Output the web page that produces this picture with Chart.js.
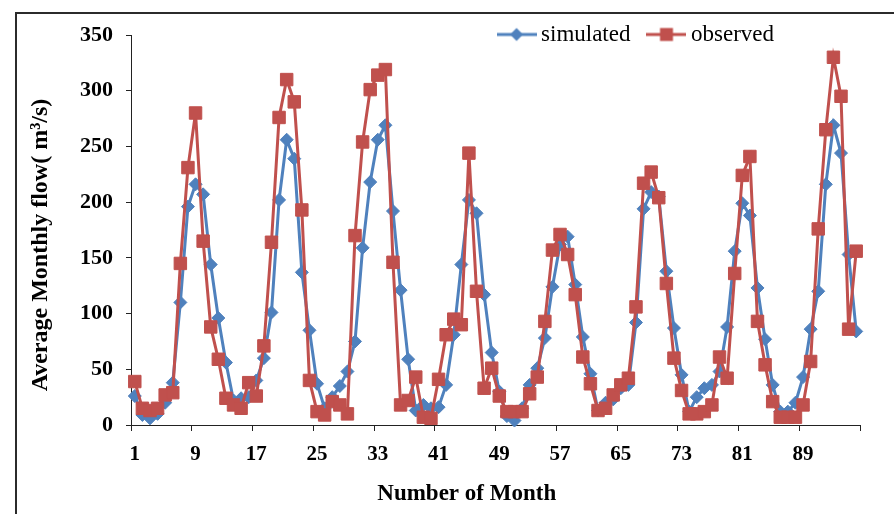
<!DOCTYPE html>
<html>
<head>
<meta charset="utf-8">
<script src="https://cdn.jsdelivr.net/npm/chart.js@4.4.0/dist/chart.umd.min.js"></script>
<style>
  html, body { margin: 0; padding: 0; background: #fff; }
  #wrap { position: relative; width: 894px; height: 514px; overflow: hidden; }
  #frame { position: absolute; left: 15px; top: 12px; width: 900px; height: 520px;
           border-left: 2px solid #2b2b2b; border-top: 2px solid #2b2b2b; }
  canvas { position: absolute; left: 0; top: 0; }
</style>
</head>
<body>
<div id="wrap">
  <div id="frame"></div>
  <canvas id="flowChart" width="894" height="514"></canvas>
</div>
<script>
// month numbers 1..96 on the category axis, only every 8th is labelled
const months = Array.from({ length: 96 }, (_, i) => String(i + 1));
const shownMonths = ['1', '9', '17', '25', '33', '41', '49', '57', '65', '73', '81', '89'];

const simulated = [
  26, 9, 6, 10, 20, 38, 110, 196, 216, 207, 144, 96,
  56, 22, 24, 25, 40, 60, 101, 202, 256, 239, 137, 85,
  37, 15, 25, 35, 48, 75, 159, 218, 256, 269, 192, 121,
  59, 13, 18, 15, 16, 36, 81, 144, 202, 190, 117, 65,
  30, 8, 4, 15, 36, 51, 78, 124, 162, 169, 126, 79,
  46, 13, 20, 23, 33, 36, 92, 194, 209, 205, 138, 87,
  45, 12, 25, 33, 36, 48, 88, 156, 199, 188, 123, 77,
  36, 12, 12, 20, 43, 86, 120, 216, 269, 244, 153, 84
];
const observed = [
  39, 15, 13, 15, 27, 29, 145, 231, 280, 165, 88, 59,
  24, 18, 15, 38, 26, 71, 164, 276, 310, 290, 193, 40,
  12, 9, 21, 18, 10, 170, 254, 301, 314, 319, 146, 18,
  22, 43, 7, 6, 41, 81, 95, 90, 244, 120, 33, 51,
  26, 12, 12, 12, 28, 43, 93, 157, 171, 153, 117, 61,
  37, 13, 15, 27, 36, 42, 106, 217, 227, 204, 127, 60,
  31, 10, 10, 12, 18, 61, 42, 136, 224, 241, 93, 54,
  21, 7, 7, 7, 18, 57, 176, 265, 330, 295, 86, 156
];

const BLUE = '#4F81BD';
const RED = '#C0504D';
const AXIS = '#222';
const serif = "'Liberation Serif', 'Times New Roman', serif";
const NB = '\u00a0';

// line + marker sample for the legend
function legendSwatch(color, shape) {
  const c = document.createElement('canvas');
  c.width = 40; c.height = 16;
  const g = c.getContext('2d');
  g.strokeStyle = color; g.lineWidth = 3;
  g.beginPath(); g.moveTo(0, 8); g.lineTo(40, 8); g.stroke();
  g.fillStyle = color;
  g.beginPath();
  if (shape === 'diamond') {
    g.moveTo(20, 1.5); g.lineTo(26.5, 8); g.lineTo(20, 14.5); g.lineTo(13.5, 8);
  } else {
    g.rect(13.5, 1.5, 13, 13);
  }
  g.fill();
  return c;
}
const swatches = [legendSwatch(BLUE, 'diamond'), legendSwatch(RED, 'square')];

// legend sits inside the plot, left of the right edge
const legendShift = {
  id: 'legendShift',
  afterLayout(chart) {
    const lg = chart.legend;
    lg.left -= 63;
    lg.right -= 63;
    lg.bottom += 30;
  }
};

new Chart(document.getElementById('flowChart'), {
  type: 'line',
  data: {
    labels: months,
    datasets: [
      {
        label: 'simulated',
        data: simulated,
        borderColor: BLUE,
        backgroundColor: BLUE,
        borderWidth: 3,
        pointStyle: 'rectRot',
        pointRadius: 6.5,
        pointBorderWidth: 1,
        tension: 0,
        clip: false,
        order: 2
      },
      {
        label: 'observed',
        data: observed,
        borderColor: RED,
        backgroundColor: RED,
        borderWidth: 3,
        pointStyle: 'rect',
        pointRadius: 8.8,
        pointBorderWidth: 1,
        tension: 0,
        clip: false,
        order: 1
      }
    ]
  },
  options: {
    responsive: false,
    animation: false,
    layout: { padding: { left: 18, right: 34, top: 0, bottom: 0 } },
    plugins: {
      tooltip: { enabled: false },
      legend: {
        position: 'top',
        align: 'end',
        maxHeight: 35,
        labels: {
          usePointStyle: true,
          pointStyleWidth: 26,
          padding: 23,
          color: '#000',
          font: { family: serif, size: 23 },
          sort: (a, b) => a.datasetIndex - b.datasetIndex,
          generateLabels(chart) {
            return Chart.defaults.plugins.legend.labels.generateLabels(chart).map(item => {
              item.pointStyle = swatches[item.datasetIndex];
              return item;
            });
          }
        }
      }
    },
    scales: {
      x: {
        type: 'category',
        offset: true,
        ticks: {
          autoSkip: false,
          maxRotation: 0,
          padding: 11,
          color: '#000',
          font: { family: serif, size: 21, weight: 'bold' },
          callback(value) {
            const l = this.getLabelForValue(value);
            return shownMonths.includes(l) ? l : '';
          }
        },
        grid: {
          offset: true,
          drawOnChartArea: false,
          tickLength: 6,
          color: c => (c.index === undefined || shownMonths.includes(months[c.index])) ? AXIS : 'rgba(0,0,0,0)'
        },
        border: { color: AXIS, width: 1 },
        title: {
          display: true,
          text: 'Number of Month' + NB.repeat(10),
          color: '#000',
          font: { family: serif, size: 23, weight: 'bold' },
          padding: { top: 0, bottom: 6 }
        },
        afterFit(scale) { scale.height = 89; }
      },
      y: {
        min: 0,
        max: 350,
        ticks: {
          stepSize: 50,
          padding: 13,
          color: '#000',
          font: { family: serif, size: 22, weight: 'bold' },
        },
        grid: { drawOnChartArea: false, tickLength: 5, color: AXIS },
        border: { color: AXIS, width: 1 },
        title: {
          display: true,
          text: 'Average Monthly flow( m³/s)' + NB.repeat(5),
          color: '#000',
          font: { family: serif, size: 24, weight: 'bold' },
          padding: { top: 8, bottom: 0 }
        },
        afterFit(scale) { scale.width = 113; }
      }
    }
  },
  plugins: [legendShift]
});
</script>
</body>
</html>
